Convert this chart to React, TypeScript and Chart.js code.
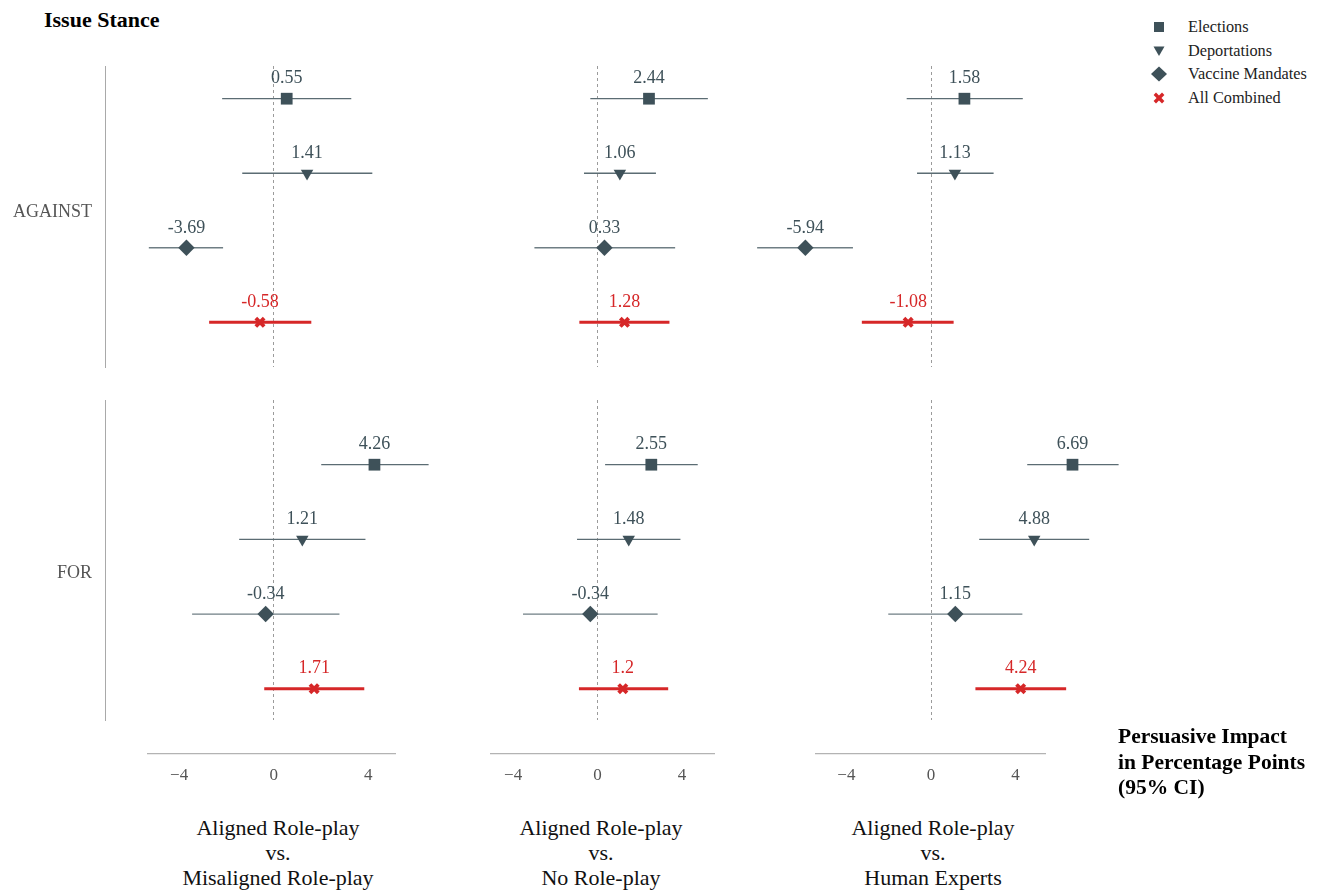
import React, { useEffect, useRef } from 'react';
import { Chart, registerables } from 'chart.js';

Chart.register(...registerables);

const FONT = '"Liberation Serif", "Times New Roman", serif';

// ---------------- data ----------------
const SERIES = ['Elections', 'Deportations', 'Vaccine Mandates', 'All Combined'];
const STANCES = ['AGAINST', 'FOR'];
const COMPARISON_TITLES = [
  ['Aligned Role-play', 'vs.', 'Misaligned Role-play'],
  ['Aligned Role-play', 'vs.', 'No Role-play'],
  ['Aligned Role-play', 'vs.', 'Human Experts'],
];
// one inner array per comparison, values in SERIES order
const AGAINST_EST = [
  [0.55, 1.41, -3.69, -0.58],
  [2.44, 1.06, 0.33, 1.28],
  [1.58, 1.13, -5.94, -1.08],
];
const AGAINST_LO = [
  [-2.18, -1.33, -5.28, -2.73],
  [-0.34, -0.64, -2.99, -0.86],
  [-1.15, -0.66, -8.22, -3.27],
];
const AGAINST_HI = [
  [3.28, 4.17, -2.14, 1.59],
  [5.23, 2.77, 3.68, 3.41],
  [4.34, 2.96, -3.69, 1.07],
];
const FOR_EST = [
  [4.26, 1.21, -0.34, 1.71],
  [2.55, 1.48, -0.34, 1.2],
  [6.69, 4.88, 1.15, 4.24],
];
const FOR_LO = [
  [2.01, -1.46, -3.45, -0.4],
  [0.36, -0.97, -3.53, -0.88],
  [4.55, 2.28, -2.02, 2.1],
];
const FOR_HI = [
  [6.55, 3.88, 2.78, 3.83],
  [4.75, 3.93, 2.85, 3.35],
  [8.87, 7.48, 4.32, 6.39],
];
const X_TICKS = [-4, 0, 4];
const TITLE = 'Issue Stance';
const AXIS_TITLE = ['Persuasive Impact', 'in Percentage Points', '(95% CI)'];

const EST = [AGAINST_EST, FOR_EST];
const LO = [AGAINST_LO, FOR_LO];
const HI = [AGAINST_HI, FOR_HI];

// ---------------- styles ----------------
const SLATE = '#3e5159';
const BAR_SLATE = '#5b6c73';
const RED = '#d62728';
const SERIES_STYLE: any[] = [
  { pointStyle: 'rect', radius: 8.3, rotation: 0, color: SLATE, bar: BAR_SLATE, barWidth: 1.3, border: 0 },
  { pointStyle: 'triangle', radius: 7.2, rotation: 180, color: SLATE, bar: BAR_SLATE, barWidth: 1.3, border: 0 },
  { pointStyle: 'rectRot', radius: 8.2, rotation: 0, color: SLATE, bar: '#6f7e84', barWidth: 1.3, border: 0 },
  { pointStyle: 'crossRot', radius: 5.9, rotation: 0, color: RED, bar: RED, barWidth: 3, border: 3.8 },
];

// ---------------- layout ----------------
const Y_AXIS_X = 105;
const PAD = 32;
const AXIS_Y = 754;
const COLS = [
  { zero: 273.7, ppu: 23.65, left: 0, right: 450, axisL: 148, axisR: 395, center: 278 },
  { zero: 597.5, ppu: 21.1, left: 450, right: 740, axisL: 491, axisR: 714, center: 601 },
  { zero: 931, ppu: 21.15, left: 740, right: 1145, axisL: 816, axisR: 1045, center: 933 },
];
const ROWS = [
  { top: 66, bottom: 367, first: 98.7, last: 322.3, labelAt: 1.52 },
  { top: 400, bottom: 720, first: 464.7, last: 688.7, labelAt: 1.45 },
];

const valueLabelPlugin = {
  id: 'valueLabels',
  afterDatasetsDraw(chart: any) {
    const ctx = chart.ctx;
    chart.data.datasets.forEach((ds: any, i: number) => {
      if (!ds.valueLabel) return;
      const meta = chart.getDatasetMeta(i);
      const pt = meta.data[0];
      if (!pt) return;
      ctx.save();
      ctx.font = `18px ${FONT}`;
      ctx.fillStyle = ds.valueColor;
      ctx.textAlign = 'center';
      ctx.textBaseline = 'middle';
      ctx.fillText(ds.valueLabel, pt.x, pt.y - 20);
      ctx.restore();
    });
  },
};

function RowChart({ col, row }: { col: number; row: number }) {
  const ref = useRef<HTMLCanvasElement>(null);
  const C = COLS[col];
  const R = ROWS[row];
  const left = C.left;
  const width = C.right - C.left;
  const top = R.top - PAD;
  const height = R.bottom - R.top + 2 * PAD;

  useEffect(() => {
    const est = EST[row][col];
    const lo = LO[row][col];
    const hi = HI[row][col];
    const datasets: any[] = [];
    SERIES.forEach((name, i) => {
      const st = SERIES_STYLE[i];
      datasets.push({
        label: name + ' CI',
        data: [{ x: lo[i], y: i }, { x: hi[i], y: i }],
        showLine: true,
        borderColor: st.bar,
        borderWidth: st.barWidth,
        pointRadius: 0,
        order: 2,
      });
      datasets.push({
        label: name,
        data: [{ x: est[i], y: i }],
        pointStyle: st.pointStyle,
        pointRadius: st.radius,
        pointRotation: st.rotation,
        pointBackgroundColor: st.color,
        pointBorderColor: st.color,
        pointBorderWidth: st.border,
        order: 1,
        valueLabel: String(est[i]),
        valueColor: st.color,
      });
    });
    const areaLeft = col === 0 ? Y_AXIS_X : C.left;
    const yppu = (R.last - R.first) / (SERIES.length - 1);
    const chart = new Chart(ref.current as HTMLCanvasElement, {
      type: 'scatter',
      data: { datasets },
      options: {
        animation: false,
        responsive: false,
        events: [],
        layout: { autoPadding: false, padding: { top: PAD, bottom: PAD, left: 0, right: 0 } },
        plugins: { legend: { display: false }, tooltip: { enabled: false } },
        scales: {
          x: {
            type: 'linear',
            min: (areaLeft - C.zero) / C.ppu,
            max: (C.right - C.zero) / C.ppu,
            afterBuildTicks: (s: any) => { s.ticks = [{ value: 0 }]; },
            afterFit: (s: any) => { s.height = 0; },
            ticks: { display: false },
            grid: { display: true, drawTicks: false, color: '#9b9b9b', lineWidth: 1 },
            border: { display: false, dash: [3, 3] },
          },
          y: {
            type: 'linear',
            reverse: true,
            display: col === 0,
            min: -(R.first - R.top) / yppu,
            max: SERIES.length - 1 + (R.bottom - R.last) / yppu,
            afterBuildTicks: (s: any) => { s.ticks = [{ value: R.labelAt }]; },
            afterFit: (s: any) => { s.width = Y_AXIS_X - C.left; },
            ticks: {
              callback: () => STANCES[row],
              color: '#555555',
              font: { family: FONT, size: 18 },
              padding: 13,
            },
            grid: { display: false, drawTicks: false },
            border: { display: true, color: '#a9a9a9', width: 1 },
          },
        },
      } as any,
      plugins: [valueLabelPlugin],
    });
    return () => chart.destroy();
  }, [col, row]);

  return (
    <canvas
      ref={ref}
      width={width}
      height={height}
      style={{ position: 'absolute', left, top, width, height }}
    />
  );
}

function AxisChart({ col }: { col: number }) {
  const ref = useRef<HTMLCanvasElement>(null);
  const C = COLS[col];
  const side = 30;
  const left = C.axisL - side;
  const width = C.axisR - C.axisL + 2 * side;
  const top = AXIS_Y - 10;
  const height = 50;

  useEffect(() => {
    const chart = new Chart(ref.current as HTMLCanvasElement, {
      type: 'scatter',
      data: { datasets: [] },
      options: {
        animation: false,
        responsive: false,
        events: [],
        layout: { autoPadding: false, padding: { left: side, right: side, top: 0, bottom: 0 } },
        plugins: { legend: { display: false }, tooltip: { enabled: false } },
        scales: {
          x: {
            type: 'linear',
            min: (C.axisL - C.zero) / C.ppu,
            max: (C.axisR - C.zero) / C.ppu,
            afterBuildTicks: (s: any) => { s.ticks = X_TICKS.map((v) => ({ value: v })); },
            afterFit: (s: any) => { s.height = 40; },
            ticks: {
              callback: (v: any) => (v < 0 ? '\u2212' + Math.abs(v) : String(v)),
              color: '#555555',
              font: { family: FONT, size: 17 },
              padding: 11,
              maxRotation: 0,
              autoSkip: false,
            },
            grid: { display: false, drawTicks: false },
            border: { display: true, color: '#b3b3b3', width: 1.2 },
          },
          y: { display: false, min: 0, max: 1 },
        },
      } as any,
    });
    return () => chart.destroy();
  }, [col]);

  return (
    <canvas
      ref={ref}
      width={width}
      height={height}
      style={{ position: 'absolute', left, top, width, height }}
    />
  );
}

function LegendMarker({ i }: { i: number }) {
  const st = SERIES_STYLE[i];
  let shape: any = null;
  if (i === 0) shape = <rect x={5} y={5} width={10} height={10} fill={st.color} />;
  else if (i === 1) shape = <polygon points="4.5,5.5 15.5,5.5 10,15" fill={st.color} />;
  else if (i === 2) shape = <polygon points="10,2.5 18,10 10,17.5 2,10" fill={st.color} />;
  else
    shape = (
      <g stroke={st.color} strokeWidth={3.4}>
        <line x1={5.8} y1={5.8} x2={14.2} y2={14.2} />
        <line x1={14.2} y1={5.8} x2={5.8} y2={14.2} />
      </g>
    );
  return (
    <svg width={20} height={20} style={{ position: 'absolute', left: -10, top: -10 }}>
      {shape}
    </svg>
  );
}

const LEGEND_ROWS = [26.5, 50.5, 74, 98];

export default function App() {
  return (
    <div
      style={{
        position: 'absolute',
        left: 0,
        top: 0,
        width: 1324,
        height: 892,
        background: '#ffffff',
        overflow: 'hidden',
        fontFamily: FONT,
      }}
    >
      <div
        style={{
          position: 'absolute',
          left: 44,
          top: 7,
          fontSize: 22,
          lineHeight: '26px',
          fontWeight: 'bold',
          color: '#000',
          whiteSpace: 'nowrap',
        }}
      >
        {TITLE}
      </div>

      {ROWS.map((_, r) => COLS.map((__, c) => <RowChart key={`r${r}c${c}`} col={c} row={r} />))}
      {COLS.map((_, c) => <AxisChart key={`a${c}`} col={c} />)}

      {COMPARISON_TITLES.map((lines, c) => (
        <div
          key={`t${c}`}
          style={{
            position: 'absolute',
            left: COLS[c].center - 150,
            width: 300,
            top: 815,
            textAlign: 'center',
            fontSize: 22,
            lineHeight: '25px',
            color: '#111',
          }}
        >
          {lines.map((l, k) => (
            <div key={k}>{l}</div>
          ))}
        </div>
      ))}

      <div
        style={{
          position: 'absolute',
          left: 1118,
          top: 724,
          fontSize: 21.5,
          lineHeight: '25.5px',
          fontWeight: 'bold',
          color: '#000',
          whiteSpace: 'nowrap',
        }}
      >
        {AXIS_TITLE.map((l, k) => (
          <div key={k}>{l}</div>
        ))}
      </div>

      {SERIES.map((name, i) => (
        <div key={`lg${i}`} style={{ position: 'absolute', left: 1159, top: LEGEND_ROWS[i] }}>
          <LegendMarker i={i} />
          <div
            style={{
              position: 'absolute',
              left: 29,
              top: -12,
              fontSize: 16.3,
              lineHeight: '24px',
              color: '#222',
              whiteSpace: 'nowrap',
            }}
          >
            {name}
          </div>
        </div>
      ))}
    </div>
  );
}
